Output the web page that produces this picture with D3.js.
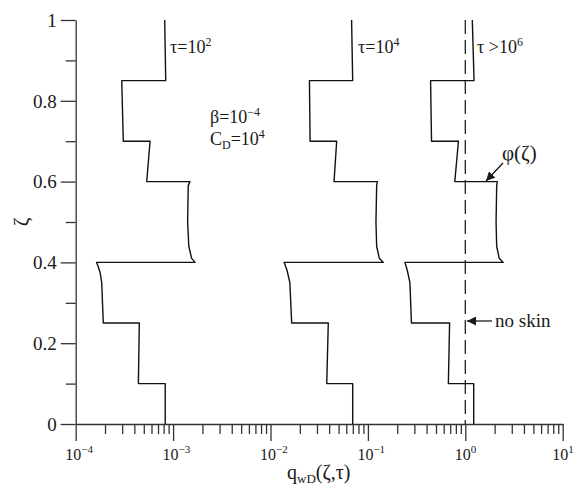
<!DOCTYPE html>
<html>
<head>
<meta charset="utf-8">
<script src="https://cdn.jsdelivr.net/npm/d3@7"></script>
<style>
  body { margin: 0; background: #fff; }
  text { font-family: "Liberation Serif", "Times New Roman", serif; fill: #1a1a1a; }
</style>
</head>
<body>
<div id="canvas"></div>
<script>
// tick labels
const xExps = [-4, -3, -2, -1, 0, 1];
const yMajor = [0, 0.2, 0.4, 0.6, 0.8, 1];
const yMinor = [0.1, 0.3, 0.5, 0.7, 0.9];

// [q_wD, zeta], bottom to top
const tau2 = [
  [8.3e-4, 0], [8.3e-4, 0.1], [4.4e-4, 0.1], [4.5e-4, 0.25],
  [1.92e-4, 0.25], [1.87e-4, 0.32], [1.85e-4, 0.35], [1.78e-4, 0.375], [1.7e-4, 0.39], [1.64e-4, 0.4],
  [1.68e-3, 0.4], [1.55e-3, 0.41], [1.45e-3, 0.44], [1.41e-3, 0.5], [1.43e-3, 0.59], [1.49e-3, 0.6],
  [5.36e-4, 0.6], [5.8e-4, 0.7],
  [3.08e-4, 0.7], [2.97e-4, 0.85],
  [8.4e-4, 0.85], [8.2e-4, 1]
];
const tau4 = [
  [0.0698, 0], [0.0698, 0.1], [0.0378, 0.1], [0.0392, 0.25],
  [0.0165, 0.25], [0.0158, 0.35], [0.0148, 0.38], [0.0143, 0.39], [0.0138, 0.4],
  [0.144, 0.4], [0.131, 0.41], [0.123, 0.44], [0.121, 0.5], [0.123, 0.59], [0.125, 0.6],
  [0.0449, 0.6], [0.0478, 0.7],
  [0.0255, 0.7], [0.0251, 0.85],
  [0.0698, 0.85], [0.068, 1]
];
const tau6 = [
  [1.22, 0], [1.22, 0.1], [0.67, 0.1], [0.69, 0.25],
  [0.28, 0.25], [0.27, 0.35], [0.254, 0.38], [0.247, 0.39], [0.24, 0.4],
  [2.45, 0.4], [2.23, 0.41], [2.10, 0.44], [2.07, 0.5], [2.10, 0.59], [2.13, 0.6],
  [0.78, 0.6], [0.85, 0.7],
  [0.45, 0.7], [0.44, 0.85],
  [1.23, 0.85], [1.18, 1]
];
const noSkin = 1;

const width = 574;
const height = 489;
const margin = { top: 20, left: 75.7, bottom: 65, right: 11.3 };
const iwidth = width - margin.left - margin.right;
const iheight = height - margin.top - margin.bottom;

const svg = d3.select("#canvas").append("svg")
  .attr("width", width)
  .attr("height", height);

svg.append("defs").append("marker")
  .attr("id", "arr")
  .attr("viewBox", "0 0 10 10")
  .attr("refX", 10).attr("refY", 5)
  .attr("markerWidth", 9).attr("markerHeight", 9)
  .attr("markerUnits", "userSpaceOnUse")
  .attr("orient", "auto")
  .append("path").attr("d", "M0,0L10,5L0,10z").attr("fill", "#1a1a1a");

const g = svg.append("g").attr("transform", `translate(${margin.left},${margin.top})`);

const x = d3.scaleLog().domain([1e-4, 10]).range([0, iwidth]);
const y = d3.scaleLinear().domain([0, 1]).range([iheight, 0]);

const axisColor = "#333";

// x axis: minor then major ticks
const xMinor = x.ticks().filter(v => Math.abs(Math.log10(v) - Math.round(Math.log10(v))) > 1e-6);
g.append("g")
  .attr("transform", `translate(0,${iheight})`)
  .call(d3.axisBottom(x).tickValues(xMinor).tickSize(10).tickSizeOuter(0).tickFormat(""))
  .call(s => s.select(".domain").remove());

const xAx = g.append("g")
  .attr("transform", `translate(0,${iheight})`)
  .call(d3.axisBottom(x).tickValues(xExps.map(e => Math.pow(10, e))).tickSize(17).tickSizeOuter(0).tickFormat(""));

xAx.selectAll(".tick").append("text")
  .attr("x", -11).attr("y", 36)
  .attr("text-anchor", "start")
  .style("font-size", "16px")
  .each(function (d, i) {
    const t = d3.select(this);
    const e = xExps[i];
    t.append("tspan").text("10");
    t.append("tspan").attr("dy", -7).style("font-size", "11px").text(e < 0 ? "\u2212" + (-e) : String(e));
  });

// y axis
g.append("g")
  .call(d3.axisLeft(y).tickValues(yMinor).tickSize(10).tickSizeOuter(0).tickFormat(""))
  .call(s => s.select(".domain").remove());

g.append("g")
  .call(d3.axisLeft(y).tickValues(yMajor).tickSize(15).tickSizeOuter(0).tickPadding(4)
    .tickFormat(d => (d === 0 || d === 1) ? String(d) : d3.format(".1f")(d)))
  .selectAll("text")
  .style("font-size", "19px")
  .attr("dy", "0.33em");

g.selectAll(".domain, .tick line").attr("stroke", axisColor).attr("stroke-width", 1.3);
g.selectAll(".tick text").attr("fill", "#1a1a1a").style("font-family", "'Liberation Serif', serif");

// no skin reference
g.append("line")
  .attr("x1", x(noSkin)).attr("x2", x(noSkin))
  .attr("y1", y(1)).attr("y2", y(0))
  .attr("stroke", "#222").attr("stroke-width", 1.3)
  .attr("stroke-dasharray", "14,6");

// curves
const line = d3.line().x(d => x(d[0])).y(d => y(d[1]));
[tau2, tau4, tau6].forEach(s => {
  g.append("path")
    .datum(s)
    .attr("d", line)
    .attr("fill", "none")
    .attr("stroke", "#111")
    .attr("stroke-width", 1.4)
    .attr("stroke-linejoin", "round");
});

// annotations
function supText(px, py, base, sup, size) {
  const t = svg.append("text").attr("x", px).attr("y", py).style("font-size", size + "px");
  t.append("tspan").text(base);
  t.append("tspan").attr("dy", -7).style("font-size", Math.round(size * 0.65) + "px").text(sup);
  return t;
}
supText(170, 53, "\u03c4=10", "2", 18);
supText(358, 53, "\u03c4=10", "4", 18);
supText(477, 53, "\u03c4 >10", "6", 18);
supText(210, 123, "\u03b2=10", "\u22124", 18);

const cd = svg.append("text").attr("x", 210).attr("y", 145).style("font-size", "18px");
cd.append("tspan").text("C");
cd.append("tspan").attr("dy", 4).style("font-size", "12px").text("D");
cd.append("tspan").attr("dy", -4).text("=10");
cd.append("tspan").attr("dy", -7).style("font-size", "12px").text("4");

svg.append("text").attr("x", 502).attr("y", 160).style("font-size", "21px").text("\u03c6(\u03b6)");
svg.append("line")
  .attr("x1", 503).attr("y1", 163).attr("x2", 486).attr("y2", 181)
  .attr("stroke", "#1a1a1a").attr("stroke-width", 1.3).attr("marker-end", "url(#arr)");

svg.append("text").attr("x", 495).attr("y", 327).style("font-size", "19px").text("no skin");
svg.append("line")
  .attr("x1", 492).attr("y1", 321).attr("x2", 467).attr("y2", 321)
  .attr("stroke", "#1a1a1a").attr("stroke-width", 1.3).attr("marker-end", "url(#arr)");

// axis titles
svg.append("text")
  .attr("transform", "translate(28,222) rotate(-90)")
  .attr("text-anchor", "middle")
  .style("font-size", "21px")
  .text("\u03b6");

const xl = svg.append("text").attr("x", 287).attr("y", 479).style("font-size", "20px");
xl.append("tspan").text("q");
xl.append("tspan").attr("dy", 4).style("font-size", "13px").text("wD");
xl.append("tspan").attr("dy", -4).text("(\u03b6,\u03c4)");
</script>
</body>
</html>
